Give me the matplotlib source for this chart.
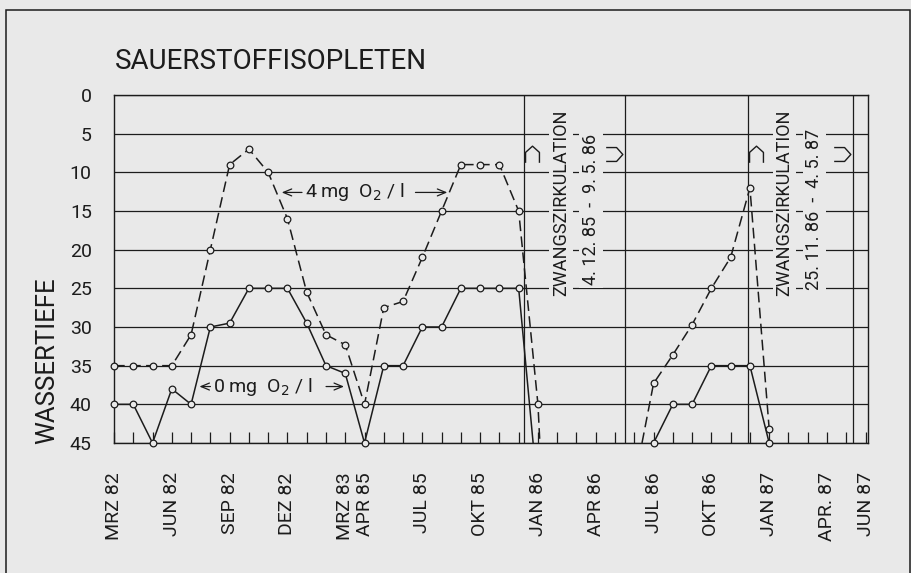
import numpy as np
import matplotlib.pyplot as plt
from matplotlib.path import Path
from matplotlib.patches import Rectangle

plt.rcParams['font.family'] = ['Roboto', 'DejaVu Sans']

# Zeitachse: Monatsindex ab MRZ 82 (=0); nach MRZ 83 springt die Achse auf APR 85
monat_ticks = [0, 3, 6, 9, 12, 13, 16, 19, 22, 25, 28, 31, 34, 37, 39]
monat_labels = ['MRZ 82', 'JUN 82', 'SEP 82', 'DEZ 82', 'MRZ 83', 'APR 85', 'JUL 85',
                'OKT 85', 'JAN 86', 'APR 86', 'JUL 86', 'OKT 86', 'JAN 87', 'APR. 87', 'JUN 87']

# 4 mg O2/l Isoplethe (gestrichelt), Wassertiefe in m
mg4_x1 = [0, 1, 2, 3, 4, 5, 6, 7, 8, 9, 10, 11, 12, 13, 14, 15, 16, 17, 18, 19, 20, 21, 22]
mg4_y1 = [35, 35, 35, 35, 31, 20, 9, 7, 10, 16, 25.5, 31, 32.3, 40, 27.5, 26.7, 21, 15, 9, 9, 9, 15, 40]
mg4_ende1 = (22.1, 45)
mg4_start2 = (27.4, 45)
mg4_x2 = [28, 29, 30, 31, 32, 33, 34]
mg4_y2 = [37.3, 33.6, 29.7, 25, 21, 12, 43.2]

# 0 mg O2/l Isoplethe (durchgezogen)
mg0_x1 = [0, 1, 2, 3, 4, 5, 6, 7, 8, 9, 10, 11, 12, 13, 14, 15, 16, 17, 18, 19, 20, 21]
mg0_y1 = [40, 40, 45, 38, 40, 30, 29.5, 25, 25, 25, 29.5, 35, 36, 45, 35, 35, 30, 30, 25, 25, 25, 25]
mg0_ende1 = (21.75, 45)
mg0_x2 = [28, 29, 30, 31, 32, 33, 34]
mg0_y2 = [45, 40, 40, 35, 35, 35, 45]

# Zwangszirkulation (Beginn / Ende als Monatsindex)
zw_beginn = [21.3, 32.9]
zw_ende = [26.5, 38.35]
zw_datum = ['4. 12. 85  -  9. 5. 86', '25. 11. 86  -  4. 5. 87']

bg = '#e9e9e9'
ink = '#1c1c1c'

fig = plt.figure(figsize=(9.12, 5.73), dpi=100, facecolor=bg)
ax = fig.add_axes([0.125, 0.2269, 0.8268, 0.6073])
ax.set_facecolor(bg)

# Linien
ax.plot(mg4_x1 + [mg4_ende1[0]], mg4_y1 + [mg4_ende1[1]], color=ink, lw=1.1,
        dashes=(7, 3.5), zorder=3)
ax.plot([mg4_start2[0]] + mg4_x2, [mg4_start2[1]] + mg4_y2, color=ink, lw=1.1,
        dashes=(7, 3.5), zorder=3)
ax.plot(mg0_x1 + [mg0_ende1[0]], mg0_y1 + [mg0_ende1[1]], color=ink, lw=1.1, zorder=3)
ax.plot(mg0_x2, mg0_y2, color=ink, lw=1.1, zorder=3)

# Messpunkte als offene Kreise
for xs, ys in [(mg4_x1, mg4_y1), (mg4_x2, mg4_y2), (mg0_x1, mg0_y1), (mg0_x2, mg0_y2)]:
    ax.plot(xs, ys, 'o', ms=4.8, mfc=bg, mec=ink, mew=0.9, zorder=4, clip_on=False)

# Beschriftung der Isoplethen
pfeil = dict(arrowstyle='->,head_length=0.6,head_width=0.25', color=ink, lw=0.9)
ax.annotate('', xy=(8.56, 12.6), xytext=(9.9, 12.6), arrowprops=pfeil)
ax.annotate('', xy=(17.44, 12.6), xytext=(15.5, 12.6), arrowprops=pfeil)
ax.text(12.5, 12.6, '4 mg  O$_2$ / l', fontsize=14, ha='center', va='center', color=ink)
ax.annotate('', xy=(4.29, 37.7), xytext=(5.15, 37.7), arrowprops=pfeil)
ax.annotate('', xy=(12.08, 37.7), xytext=(10.86, 37.7), arrowprops=pfeil)
ax.text(7.7, 37.7, '0 mg  O$_2$ / l', fontsize=14, ha='center', va='center', color=ink)

# Zwangszirkulation: senkrechte Linien, Texte und Symbole
kappe_oben = Path([(-1, -1.2), (-1, 0.3), (0, 1.2), (1, 0.3), (1, -1.2)])
kappe_rechts = Path([(-1.2, 1), (0.3, 1), (1.2, 0), (0.3, -1), (-1.2, -1)])
for b, e, d in zip(zw_beginn, zw_ende, zw_datum):
    ax.axvline(b, color=ink, lw=0.9, zorder=2)
    ax.axvline(e, color=ink, lw=0.9, zorder=2)
    ax.text(b + 1.9, 13.9, 'ZWANGSZIRKULATION', rotation=90, fontsize=13,
            ha='center', va='center', color=ink,
            bbox=dict(facecolor=bg, edgecolor='none', pad=2))
    ax.text(b + 3.45, 14.8, d, rotation=90, fontsize=13, ha='center', va='center',
            color=ink, bbox=dict(facecolor=bg, edgecolor='none', pad=2))
    ax.plot(b + 0.4, 7.6, marker=kappe_oben, ms=12, mfc='none', mec=ink, mew=1.0, zorder=5)
    ax.plot(e - 0.55, 7.6, marker=kappe_rechts, ms=12, mfc='none', mec=ink, mew=1.0, zorder=5)

# Achsen
ax.set_xlim(0, 39.13)
ax.set_ylim(45, 0)
ax.set_yticks(range(0, 46, 5))
ax.grid(axis='y', color=ink, lw=0.9, zorder=1)
ax.set_xticks(monat_ticks)
ax.set_xticklabels(monat_labels, rotation=90)
ax.set_xticks(range(40), minor=True)
ax.tick_params(axis='x', which='both', direction='in', length=8, width=0.9,
               pad=21, labelsize=14, colors=ink)
ax.tick_params(axis='y', length=0, pad=16, labelsize=14, colors=ink)
for s in ax.spines.values():
    s.set_color(ink)
    s.set_linewidth(1.0)

fig.text(115 / 912, 1 - 69 / 573, 'SAUERSTOFFISOPLETEN', fontsize=20, ha='left',
         va='baseline', color=ink)
fig.text(47 / 912, 1 - 361 / 573, 'WASSERTIEFE', fontsize=18.5, rotation=90,
         ha='center', va='center', color=ink)

# Rahmen
fig.add_artist(Rectangle((6 / 912, -0.1), 904 / 912, 1.1 - 10 / 573, fill=False,
                         edgecolor=ink, lw=1.1, transform=fig.transFigure))

fig.savefig('out.png', dpi=100, facecolor=bg)
